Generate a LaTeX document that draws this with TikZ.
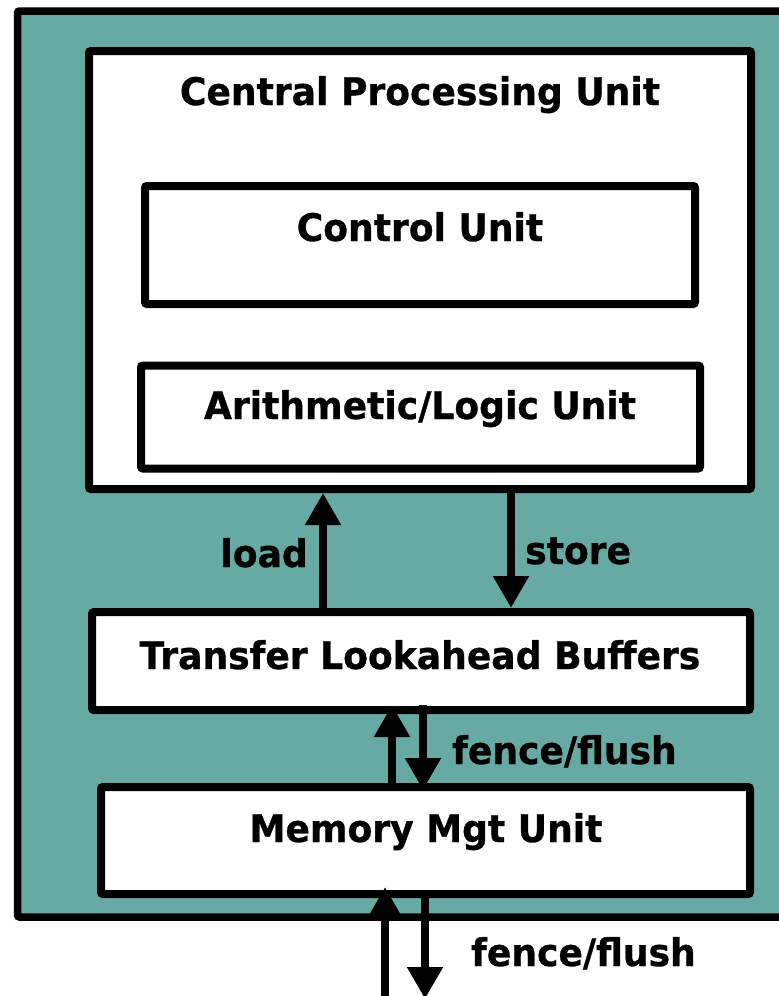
\documentclass[tikz,border=0pt]{standalone}
\usepackage{fontspec}
\setmainfont{DejaVu Sans}
\newfontfamily\lblfont{DejaVu Sans Bold}[FakeStretch=0.95, FakeBold=0.8]
\usetikzlibrary{arrows.meta}
\definecolor{boardteal}{RGB}{103,170,163}
\begin{document}
\begin{tikzpicture}[x=1pt,y=-1pt,
  every node/.style={inner sep=0pt},
  board/.style={draw=black, line width=7.5pt, fill=boardteal, rounded corners=2pt},
  unitbox/.style={draw=black, line width=8pt, fill=white, rounded corners=2pt},
  lbl/.style={font=\lblfont\fontsize{38}{43}\selectfont, text=black},
  arr/.style={line width=8pt, draw=black, -{Triangle[width=34pt,length=32pt]}}]
\useasboundingbox (0,0) rectangle (779,996);
\clip (0,0) rectangle (779,996);

% teal board behind the units (runs off the right edge)
\node[board, minimum width=802pt, minimum height=906pt] (board) at (418.5,464) {};

% processor with its two inner units
\node[unitbox, minimum width=662pt, minimum height=438pt] (cpu) at (420,270) {};
\node[unitbox, minimum width=550pt, minimum height=118pt] (cu) at (420,245) {};
\node[unitbox, minimum width=559pt, minimum height=103pt] (alu) at (420.5,417) {};

% buffers and memory management
\node[unitbox, minimum width=658pt, minimum height=98pt] (tlb) at (421,661) {};
\node[unitbox, minimum width=649pt, minimum height=107pt] (mmu) at (425.5,840.5) {};

% texts
\node[lbl, anchor=base] (tcpu) at (420,105) {Central Processing Unit};
\node[lbl, anchor=base] (tcu) at (420,241) {Control Unit};
\node[lbl, anchor=base] (talu) at (420,419) {Arithmetic/Logic Unit};
\node[lbl, anchor=base] (ttlb) at (420,669) {Transfer Lookahead Buffers};
\node[lbl, anchor=base] (tmmu) at (426,842) {Memory Mgt Unit};
\node[lbl, anchor=base east] (tload) at (308,567) {load};
\node[lbl, anchor=base west] (tstore) at (525,564) {store};
\node[lbl, anchor=base west] (tff1) at (452,764) {fence/flush};
\node[lbl, anchor=base west] (tff2) at (471,966) {fence/flush};

% column positions of the arrows
\coordinate (xload) at (323,0);
\coordinate (xstore) at (511,0);
\coordinate (xup1) at (392,0);
\coordinate (xdn1) at (423,0);
\coordinate (xup2) at (385,0);
\coordinate (xdn2) at (425,0);
\coordinate (busup) at (385,1000);
\coordinate (busdn) at (425,999);

% load / store between buffers and processor
\draw[arr] (xload |- tlb.north) -- (xload |- cpu.south);
\draw[arr] (xstore |- cpu.south) -- (xstore |- tlb.north);

% fence/flush between buffers and memory unit
\draw[arr] (xup1 |- mmu.north) -- ([yshift=9pt]xup1 |- tlb.south);
\draw[arr] ([yshift=9pt]xdn1 |- tlb.south) -- ([yshift=-7pt]xdn1 |- mmu.north);

% fence/flush leaving the board
\draw[arr] (busup) -- ([yshift=11pt]xup2 |- mmu.south);
\draw[arr] ([yshift=4pt]xdn2 |- mmu.south) -- (busdn);
\end{tikzpicture}
\end{document}
